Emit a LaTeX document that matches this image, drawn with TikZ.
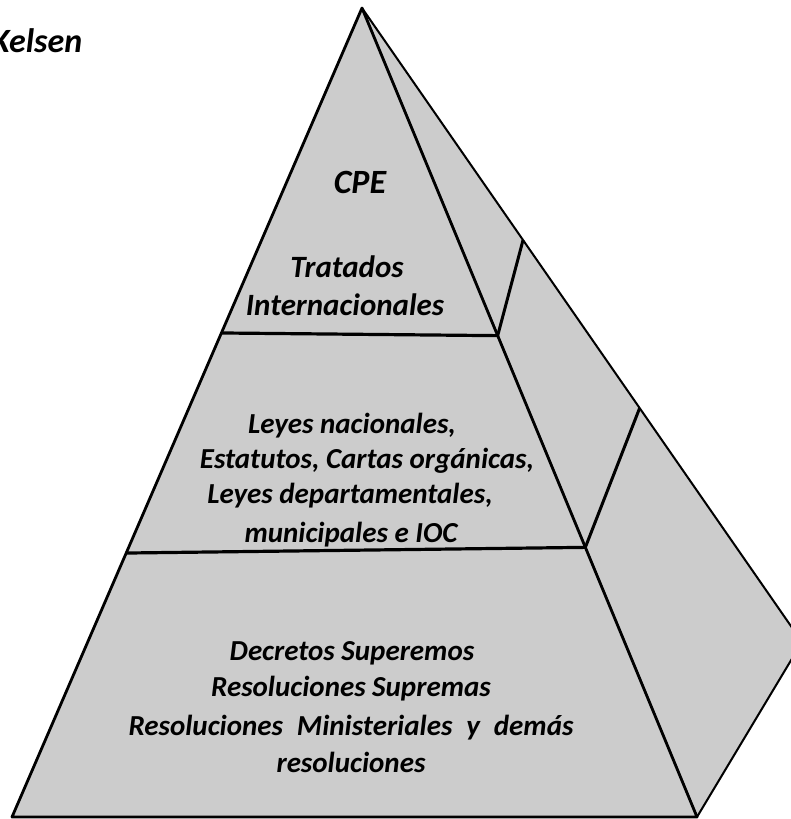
\documentclass[tikz,border=0pt]{standalone}
\usepackage{fontspec}
\setmainfont{Carlito}
\usetikzlibrary{calc}
\definecolor{facegray}{RGB}{204,204,204}
\tikzset{
  face/.style={fill=facegray, draw=black, line join=round},
  frontedge/.style={line width=2.8pt},
  backedge/.style={line width=2pt},
  divider/.style={draw=black, line width=3.2pt},
  lbl/.style={inner sep=0pt, anchor=base, font=\bfseries\itshape\fontsize{29}{35}\selectfont},
  toplbl/.style={lbl, font=\bfseries\itshape\fontsize{31}{37}\selectfont},
  biglbl/.style={lbl, font=\bfseries\itshape\fontsize{34}{40}\selectfont}
}
\begin{document}
\begin{tikzpicture}[x=1pt,y=-1pt]
\useasboundingbox (0,0) rectangle (791,819);
% corners
\coordinate (A) at (362,8);
\coordinate (BL) at (12,817);
\coordinate (FR) at (697,817);
\coordinate (BR) at (802,642);
% right face
\path[face, backedge] (A) -- (BR) -- (FR) -- cycle;
% front face
\path[face, frontedge] (A) -- (BL) -- (FR) -- cycle;
% dividers on front face
\coordinate (L1) at ($(A)!0.4017!(BL)$);
\coordinate (R1) at ($(A)!0.405!(FR)$);
\coordinate (L2) at ($(A)!0.6737!(BL)$);
\coordinate (R2) at ($(A)!0.6667!(FR)$);
\coordinate (B1) at ($(A)!0.366!(BR)$);
\coordinate (B2) at ($(A)!0.631!(BR)$);
\draw[divider] (L1) -- (R1);
\draw[divider] (L2) -- (R2);
\draw[divider, line width=3pt] (R1) -- (B1);
\draw[divider, line width=3pt] (R2) -- (B2);
% labels
\node[biglbl, anchor=base west] (kel) at (-9,52) {Kelsen};
\node[biglbl] (cpe) at (360,193) {CPE};
\node[toplbl] (t1) at (347,277) {Tratados};
\node[toplbl] (t2) at (345,315) {Internacionales};
\node[lbl] (m1) at (352,433) {Leyes nacionales,};
\node[lbl] (m2) at (367,468) {Estatutos, Cartas orgánicas,};
\node[lbl] (m3) at (350,503) {Leyes departamentales,};
\node[lbl] (m4) at (351,542) {municipales e IOC};
\node[lbl] (b1) at (352,660) {Decretos Superemos};
\node[lbl] (b2) at (351,696) {Resoluciones Supremas};
\node[lbl] (b3) at (351,735) {\hbox to 445pt{Resoluciones\hfill Ministeriales\hfill y\hfill demás}};
\node[lbl] (b4) at (351,772) {resoluciones};
\end{tikzpicture}
\end{document}
